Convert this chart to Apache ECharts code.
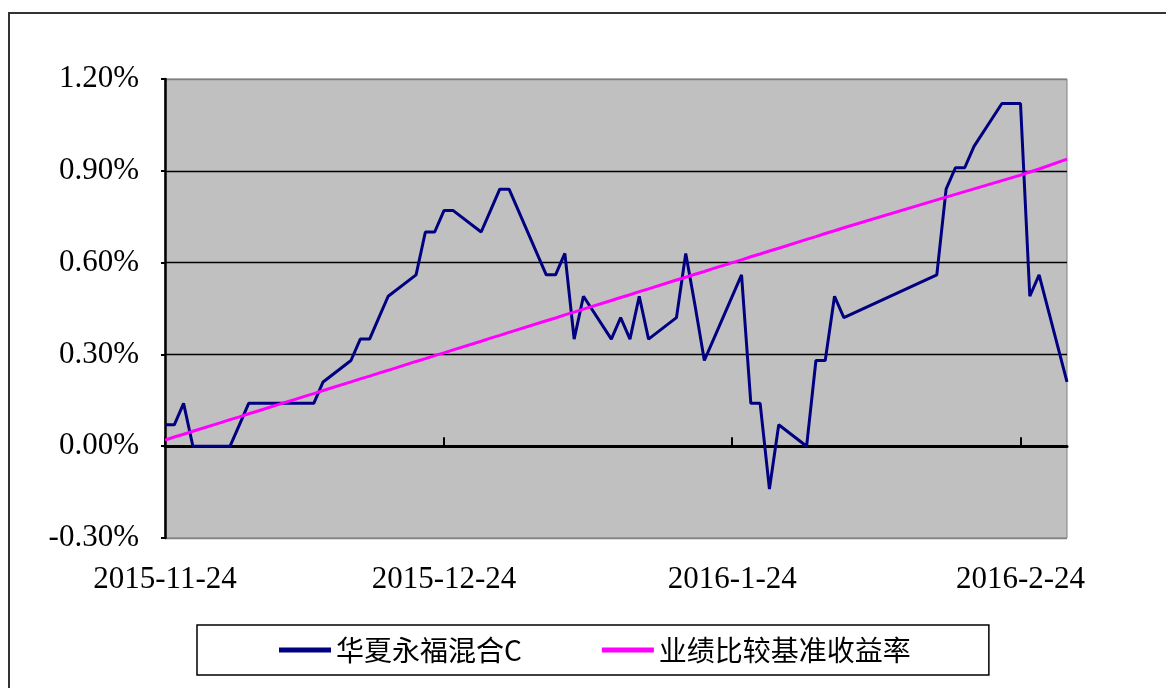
<!DOCTYPE html>
<html>
<head>
<meta charset="utf-8">
<title>华夏永福混合C</title>
<script src="https://cdn.jsdelivr.net/npm/echarts@6/dist/echarts.min.js"></script>
<style>
    html, body { margin: 0; padding: 0; background: #fff; }
    #chart { width: 1166px; height: 688px; }
</style>
</head>
<body>
<div id="chart"></div>
<script>
// 交易日
var dates = [
    '2015-11-24','2015-11-25','2015-11-26','2015-11-27','2015-11-30',
    '2015-12-01','2015-12-02','2015-12-03','2015-12-04','2015-12-07','2015-12-08','2015-12-09','2015-12-10','2015-12-11',
    '2015-12-14','2015-12-15','2015-12-16','2015-12-17','2015-12-18','2015-12-21','2015-12-22','2015-12-23','2015-12-24','2015-12-25',
    '2015-12-28','2015-12-29','2015-12-30','2015-12-31',
    '2016-01-04','2016-01-05','2016-01-06','2016-01-07','2016-01-08','2016-01-11','2016-01-12','2016-01-13','2016-01-14','2016-01-15',
    '2016-01-18','2016-01-19','2016-01-20','2016-01-21','2016-01-22','2016-01-25','2016-01-26','2016-01-27','2016-01-28','2016-01-29',
    '2016-02-01','2016-02-02','2016-02-03','2016-02-04','2016-02-05',
    '2016-02-15','2016-02-16','2016-02-17','2016-02-18','2016-02-19','2016-02-22','2016-02-23','2016-02-24','2016-02-25','2016-02-26',
    '2016-02-29'
];
// 华夏永福混合C 累计收益率(%)
var fundValues = [
    0.07, 0.07, 0.14, 0.00, 0.00,
    0.00, 0.07, 0.14, 0.14, 0.14, 0.14, 0.14, 0.14, 0.21,
    0.28, 0.35, 0.35, 0.42, 0.49, 0.56, 0.70, 0.70, 0.77, 0.77,
    0.70, 0.77, 0.84, 0.84,
    0.56, 0.56, 0.63, 0.35, 0.49, 0.35, 0.42, 0.35, 0.49, 0.35,
    0.42, 0.63, 0.46, 0.28, 0.35, 0.56, 0.14, 0.14, -0.14, 0.07,
    0.00, 0.28, 0.28, 0.49, 0.42,
    0.56, 0.84, 0.91, 0.91, 0.98, 1.12, 1.12, 1.12, 0.49, 0.56,
    0.21
];
// 业绩比较基准收益率(%)
var benchValues = [
    0.020, 0.030, 0.039, 0.049, 0.077,
    0.087, 0.096, 0.106, 0.115, 0.144, 0.153, 0.163, 0.172, 0.182,
    0.210, 0.220, 0.229, 0.239, 0.248, 0.277, 0.286, 0.296, 0.305, 0.315,
    0.343, 0.353, 0.362, 0.372,
    0.410, 0.419, 0.429, 0.438, 0.448, 0.476, 0.486, 0.495, 0.505, 0.514,
    0.543, 0.552, 0.562, 0.571, 0.581, 0.609, 0.619, 0.628, 0.638, 0.647,
    0.676, 0.685, 0.695, 0.704, 0.714,
    0.805, 0.814, 0.823, 0.832, 0.841, 0.868, 0.877, 0.886, 0.896, 0.906,
    0.938
];
var seriesNames = ['华夏永福混合C', '业绩比较基准收益率'];
var tickDates = ['2015-11-24', '2015-12-24', '2016-01-24', '2016-02-24'];
var startDate = '2015-11-24';
var endDate = '2016-02-29';
var yTicks = { min: -0.3, max: 1.2, step: 0.3 };

// 日期 -> 距起始日的天数
function dayOf(s) {
    var p = s.split('-');
    var t = Date.UTC(+p[0], +p[1] - 1, +p[2]);
    var q = startDate.split('-');
    var t0 = Date.UTC(+q[0], +q[1] - 1, +q[2]);
    return Math.round((t - t0) / 86400000);
}
function labelOf(day) {
    var q = startDate.split('-');
    var d = new Date(Date.UTC(+q[0], +q[1] - 1, +q[2]) + day * 86400000);
    return d.getUTCFullYear() + '-' + (d.getUTCMonth() + 1) + '-' + d.getUTCDate();
}
function pair(vals) {
    return dates.map(function (d, i) { return [dayOf(d), vals[i]]; });
}
var tickDays = tickDates.map(dayOf);

var chart = echarts.init(document.getElementById('chart'));
var serif = '"Liberation Serif", "Times New Roman", serif';
var cjk = '"Noto Sans CJK SC", sans-serif';

var option = {
    backgroundColor: '#fff',
    animation: false,
    graphic: [{
        type: 'rect',
        shape: { x: 9, y: 13, width: 1200, height: 720 },
        style: { fill: 'none', stroke: '#333', lineWidth: 2 },
        silent: true
    }],
    grid: {
        left: 165, top: 79, right: 99, bottom: 150,
        show: true,
        backgroundColor: '#C0C0C0',
        borderColor: '#808080',
        borderWidth: 1
    },
    legend: {
        left: 197,
        top: 625,
        padding: [11, 78, 11, 82],
        borderColor: '#000',
        borderWidth: 1.5,
        itemWidth: 52,
        itemHeight: 5,
        itemGap: 80,
        icon: 'rect',
        textStyle: { fontFamily: cjk, fontSize: 28, color: '#000' },
        data: seriesNames
    },
    xAxis: [{
        type: 'value',
        min: 0,
        max: dayOf(endDate),
        axisLine: { onZero: true, lineStyle: { color: '#000', width: 3 } },
        axisTick: { show: true, inside: true, length: 9, customValues: tickDays, lineStyle: { color: '#000', width: 2 } },
        axisLabel: { show: false },
        splitLine: { show: false }
    }, {
        type: 'value',
        position: 'bottom',
        min: 0,
        max: dayOf(endDate),
        axisLine: { show: false, onZero: false },
        axisTick: { show: false },
        splitLine: { show: false },
        axisLabel: {
            show: true,
            margin: 26,
            customValues: tickDays,
            fontFamily: serif,
            fontSize: 31,
            color: '#000',
            formatter: function (v) { return labelOf(v); }
        }
    }],
    yAxis: {
        type: 'value',
        min: yTicks.min,
        max: yTicks.max,
        interval: yTicks.step,
        axisLine: { show: true, lineStyle: { color: '#000', width: 2.5 } },
        axisTick: { show: true, length: 4, lineStyle: { color: '#000', width: 2 } },
        axisLabel: {
            margin: 26,
            fontFamily: serif,
            fontSize: 31,
            color: '#000',
            formatter: function (v) { return v.toFixed(2) + '%'; }
        },
        splitLine: {
            show: true,
            lineStyle: { color: ['#808080', '#000', '#000', '#000', '#000', '#808080'], width: 1.3 }
        }
    },
    series: [{
        name: seriesNames[0],
        type: 'line',
        xAxisIndex: 0,
        data: pair(fundValues),
        showSymbol: false,
        symbol: 'none',
        itemStyle: { color: '#000080' },
        lineStyle: { color: '#000080', width: 3 },
        z: 3
    }, {
        name: seriesNames[1],
        type: 'line',
        xAxisIndex: 0,
        data: pair(benchValues),
        showSymbol: false,
        symbol: 'none',
        itemStyle: { color: '#FF00FF' },
        lineStyle: { color: '#FF00FF', width: 3 },
        z: 4
    }]
};
chart.setOption(option);
</script>
</body>
</html>
